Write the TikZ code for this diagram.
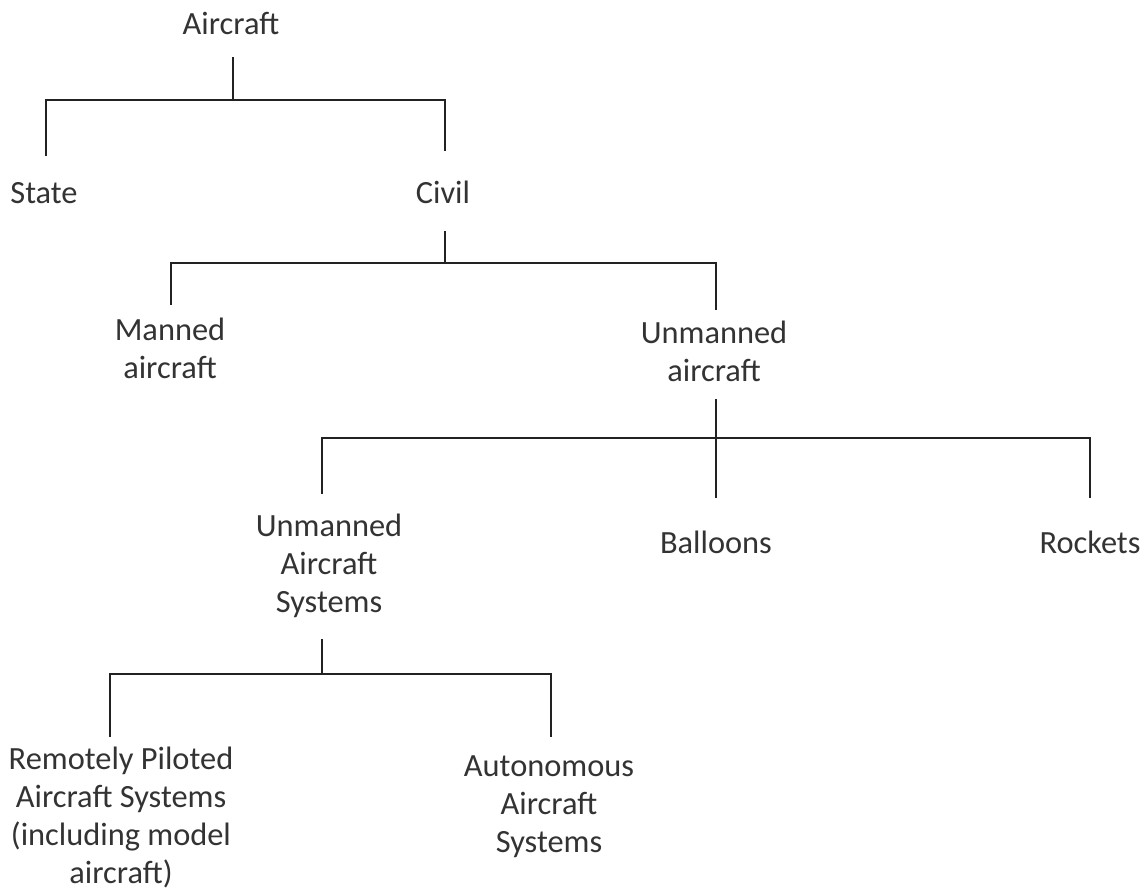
\documentclass[tikz,border=0pt]{standalone}
\usepackage{fontspec}
\setmainfont{Carlito}
\definecolor{txt}{HTML}{333333}
\definecolor{ln}{HTML}{222222}
\begin{document}
\begin{tikzpicture}[x=0.75pt,y=-0.75pt,
  lbl/.style={inner sep=0pt,anchor=base,align=center,text=txt,font=\fontsize{24.3}{28.5}\selectfont},
  conn/.style={draw=ln,line width=1.6pt}]
\useasboundingbox (0,0) rectangle (1145,892);
% nodes (y = baseline of the last line)
\node[lbl] (aircraft) at (231,35) {Aircraft};
\node[lbl] (state) at (44,203) {State};
\node[lbl] (civil) at (443,203) {Civil};
\node[lbl] (manned) at (170,378) {Manned\\aircraft};
\node[lbl] (unmanned) at (714,381) {Unmanned\\aircraft};
\node[lbl] (uas) at (329,612) {Unmanned\\Aircraft\\Systems};
\node[lbl] (balloons) at (716,553) {Balloons};
\node[lbl] (rockets) at (1090,553) {Rockets};
\node[lbl] (rpas) at (121,883) {Remotely Piloted\\Aircraft Systems\\(including model\\aircraft)};
\node[lbl] (auto) at (549,852) {Autonomous\\Aircraft\\Systems};
% connector coordinates
\coordinate (aircraft-out) at (233,57);
\coordinate (j1) at (233,100);
\coordinate (state-in) at (46,156);
\coordinate (civil-in) at (445,151);
\coordinate (civil-out) at (445,231);
\coordinate (j2) at (445,263);
\coordinate (manned-in) at (171,305);
\coordinate (unmanned-in) at (716,310);
\coordinate (unmanned-out) at (716,399);
\coordinate (j3) at (716,438);
\coordinate (uas-in) at (322,494);
\coordinate (balloons-in) at (716,498);
\coordinate (rockets-in) at (1090,498);
\coordinate (uas-out) at (322,639);
\coordinate (j4) at (322,674);
\coordinate (rpas-in) at (110,737);
\coordinate (auto-in) at (551,737);
% connectors
\draw[conn] (aircraft-out) -- (j1);
\draw[conn] (state-in) |- (j1) -| (civil-in);
\draw[conn] (civil-out) -- (j2);
\draw[conn] (manned-in) |- (j2) -| (unmanned-in);
\draw[conn] (unmanned-out) -- (balloons-in);
\draw[conn] (uas-in) |- (j3) -| (rockets-in);
\draw[conn] (uas-out) -- (j4);
\draw[conn] (rpas-in) |- (j4) -| (auto-in);
\end{tikzpicture}
\end{document}
